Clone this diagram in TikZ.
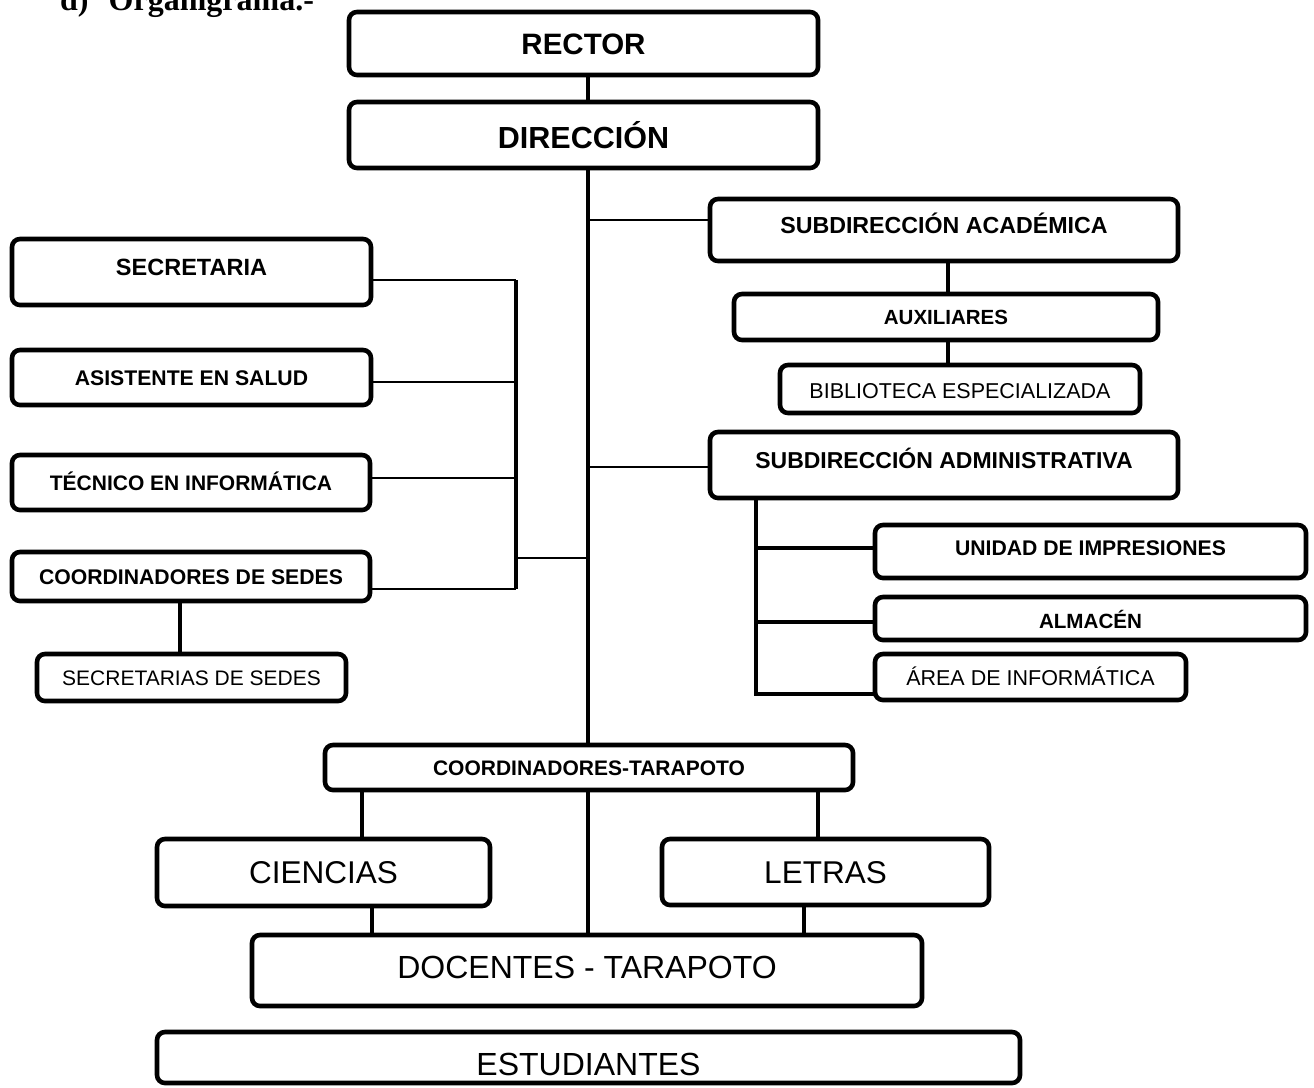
\documentclass[tikz,border=0pt]{standalone}
\usepackage{fontspec}
\setmainfont{Liberation Sans}
\newfontfamily\titleserif{Liberation Serif}
\newcommand\fsz[1]{\fontsize{#1}{#1}\selectfont}
\tikzset{
  box/.style={draw, line width=4.6pt, rounded corners=8pt, inner sep=0pt, outer sep=0pt, align=center, text depth=0pt},
  thinln/.style={line width=2pt},
  thickln/.style={line width=4.8pt},
}
\begin{document}
\begin{tikzpicture}[x=1pt,y=-1pt]
\useasboundingbox (0,0) rectangle (1314,1087);
\clip (0,0) rectangle (1314,1087);

% title (cut at the top, as in the reference)
\node[anchor=base west, inner sep=0pt, font=\titleserif\bfseries\fsz{32}] (title) at (60,10) {d)\hspace{20pt}Organigrama.-};

% helper x positions
\coordinate (mx) at (588,0);
\coordinate (lx) at (516,0);
\coordinate (bx) at (756,0);
\coordinate (ax) at (948,0);
\coordinate (sx) at (180,0);
\coordinate (c1) at (362,0);
\coordinate (c2) at (818,0);
\coordinate (c3) at (372,0);
\coordinate (c4) at (804,0);
\coordinate (lj) at (516,558);

% top
\node[box, minimum width=469pt, minimum height=63pt, font=\bfseries\fsz{29.5}, text height=21.1pt] (rector) at (583.5,43.5) {RECTOR};
\node[box, minimum width=469pt, minimum height=66pt, font=\bfseries\fsz{30.5}, text height=27.8pt] (dir) at (583.5,135) {DIRECCIÓN};

% right side
\node[box, minimum width=468pt, minimum height=62pt, font=\bfseries\fsz{23.2}, text height=16.6pt, text depth=10pt] (subacad) at (944,230) {SUBDIRECCIÓN ACADÉMICA};
\node[box, minimum width=424pt, minimum height=46pt, font=\bfseries\fsz{20.5}, text height=14.7pt] (aux) at (946,317) {AUXILIARES};
\node[box, minimum width=360pt, minimum height=48pt, font=\fsz{21.5}, text height=19.4pt] (bib) at (960,389) {BIBLIOTECA ESPECIALIZADA};
\node[box, minimum width=468pt, minimum height=66pt, font=\bfseries\fsz{23}, text height=16.5pt, text depth=10pt] (subadm) at (944,465) {SUBDIRECCIÓN ADMINISTRATIVA};
\node[box, minimum width=431pt, minimum height=53pt, font=\bfseries\fsz{21.2}, text height=15.2pt, text depth=8pt] (unidad) at (1090.5,551.5) {UNIDAD DE IMPRESIONES};
\node[box, minimum width=431pt, minimum height=43pt, font=\bfseries\fsz{20.6}, text height=20.7pt] (almacen) at (1090.5,618.5) {ALMACÉN};
\node[box, minimum width=311pt, minimum height=46pt, font=\fsz{21.5}, text height=17.4pt] (area) at (1030.5,677) {ÁREA DE INFORMÁTICA};

% left side
\node[box, minimum width=359pt, minimum height=66pt, font=\bfseries\fsz{23.5}, text height=16.8pt, text depth=10pt] (secretaria) at (191.5,272) {SECRETARIA};
\node[box, minimum width=359pt, minimum height=55pt, font=\bfseries\fsz{21.2}, text height=15.2pt] (asist) at (191.5,377.5) {ASISTENTE EN SALUD};
\node[box, minimum width=358pt, minimum height=55pt, font=\bfseries\fsz{21}, text height=15pt] (tecnico) at (191,482.5) {TÉCNICO EN INFORMÁTICA};
\node[box, minimum width=358pt, minimum height=49pt, font=\bfseries\fsz{21.2}, text height=15.2pt] (coordsedes) at (191,576.5) {COORDINADORES DE SEDES};
\node[box, minimum width=309pt, minimum height=47pt, font=\fsz{21}, text height=15pt] (secrsedes) at (191.5,677.5) {SECRETARIAS DE SEDES};

% bottom
\node[box, minimum width=528pt, minimum height=45pt, font=\bfseries\fsz{21}, text height=15pt] (coordtar) at (589,767.5) {COORDINADORES-TARAPOTO};
\node[box, minimum width=333pt, minimum height=67pt, font=\fsz{31.5}, text height=22.6pt] (ciencias) at (323.5,872.5) {CIENCIAS};
\node[box, minimum width=327pt, minimum height=66pt, font=\fsz{31.5}, text height=22.6pt] (letras) at (825.5,872) {LETRAS};
\node[box, minimum width=670pt, minimum height=71pt, font=\fsz{32}, text height=22.9pt, text depth=6pt] (docentes) at (587,970.5) {DOCENTES - TARAPOTO};
\node[box, minimum width=863pt, minimum height=51pt, font=\fsz{32}, text height=36.9pt] (estud) at (588.5,1057.5) {ESTUDIANTES};

% connectors: main spine
\draw[thickln] (rector.south -| mx) -- (dir.north -| mx);
\draw[thickln] (dir.south -| mx) -- (coordtar.north -| mx);
\draw[thickln] (coordtar.south -| mx) -- (docentes.north -| mx);

% right branches
\draw[thinln] ([yshift=10pt]subacad.west) -- ([yshift=10pt]subacad.west -| mx);
\draw[thickln] (subacad.south -| ax) -- (aux.north -| ax);
\draw[thickln] (aux.south -| ax) -- (bib.north -| ax);
\draw[thinln] ([yshift=-2pt]subadm.west) -- ([yshift=-2pt]subadm.west -| mx);
\draw[thickln] (subadm.south -| bx) |- ([yshift=-17pt]area.west);
\draw[thickln] ([yshift=3.5pt]unidad.west -| bx) -- ([yshift=3.5pt]unidad.west);
\draw[thickln] ([yshift=-3.5pt]almacen.west -| bx) -- ([yshift=-3.5pt]almacen.west);

% left branches
\draw[thickln] ([yshift=-8pt]secretaria.east -| lx) -- ([yshift=-12.5pt]coordsedes.east -| lx);
\draw[thinln] ([yshift=-8pt]secretaria.east) -- ([yshift=-8pt]secretaria.east -| lx);
\draw[thinln] ([yshift=-4.5pt]asist.east) -- ([yshift=-4.5pt]asist.east -| lx);
\draw[thinln] ([yshift=4.5pt]tecnico.east) -- ([yshift=4.5pt]tecnico.east -| lx);
\draw[thinln] ([yshift=-12.5pt]coordsedes.east) -- ([yshift=-12.5pt]coordsedes.east -| lx);
\draw[thinln] (lj) -- (lj -| mx);
\draw[thickln] (coordsedes.south -| sx) -- (secrsedes.north -| sx);

% bottom branches
\draw[thickln] (coordtar.south -| c1) -- (ciencias.north -| c1);
\draw[thickln] (coordtar.south -| c2) -- (letras.north -| c2);
\draw[thickln] (ciencias.south -| c3) -- (docentes.north -| c3);
\draw[thickln] (letras.south -| c4) -- (docentes.north -| c4);
\end{tikzpicture}
\end{document}
